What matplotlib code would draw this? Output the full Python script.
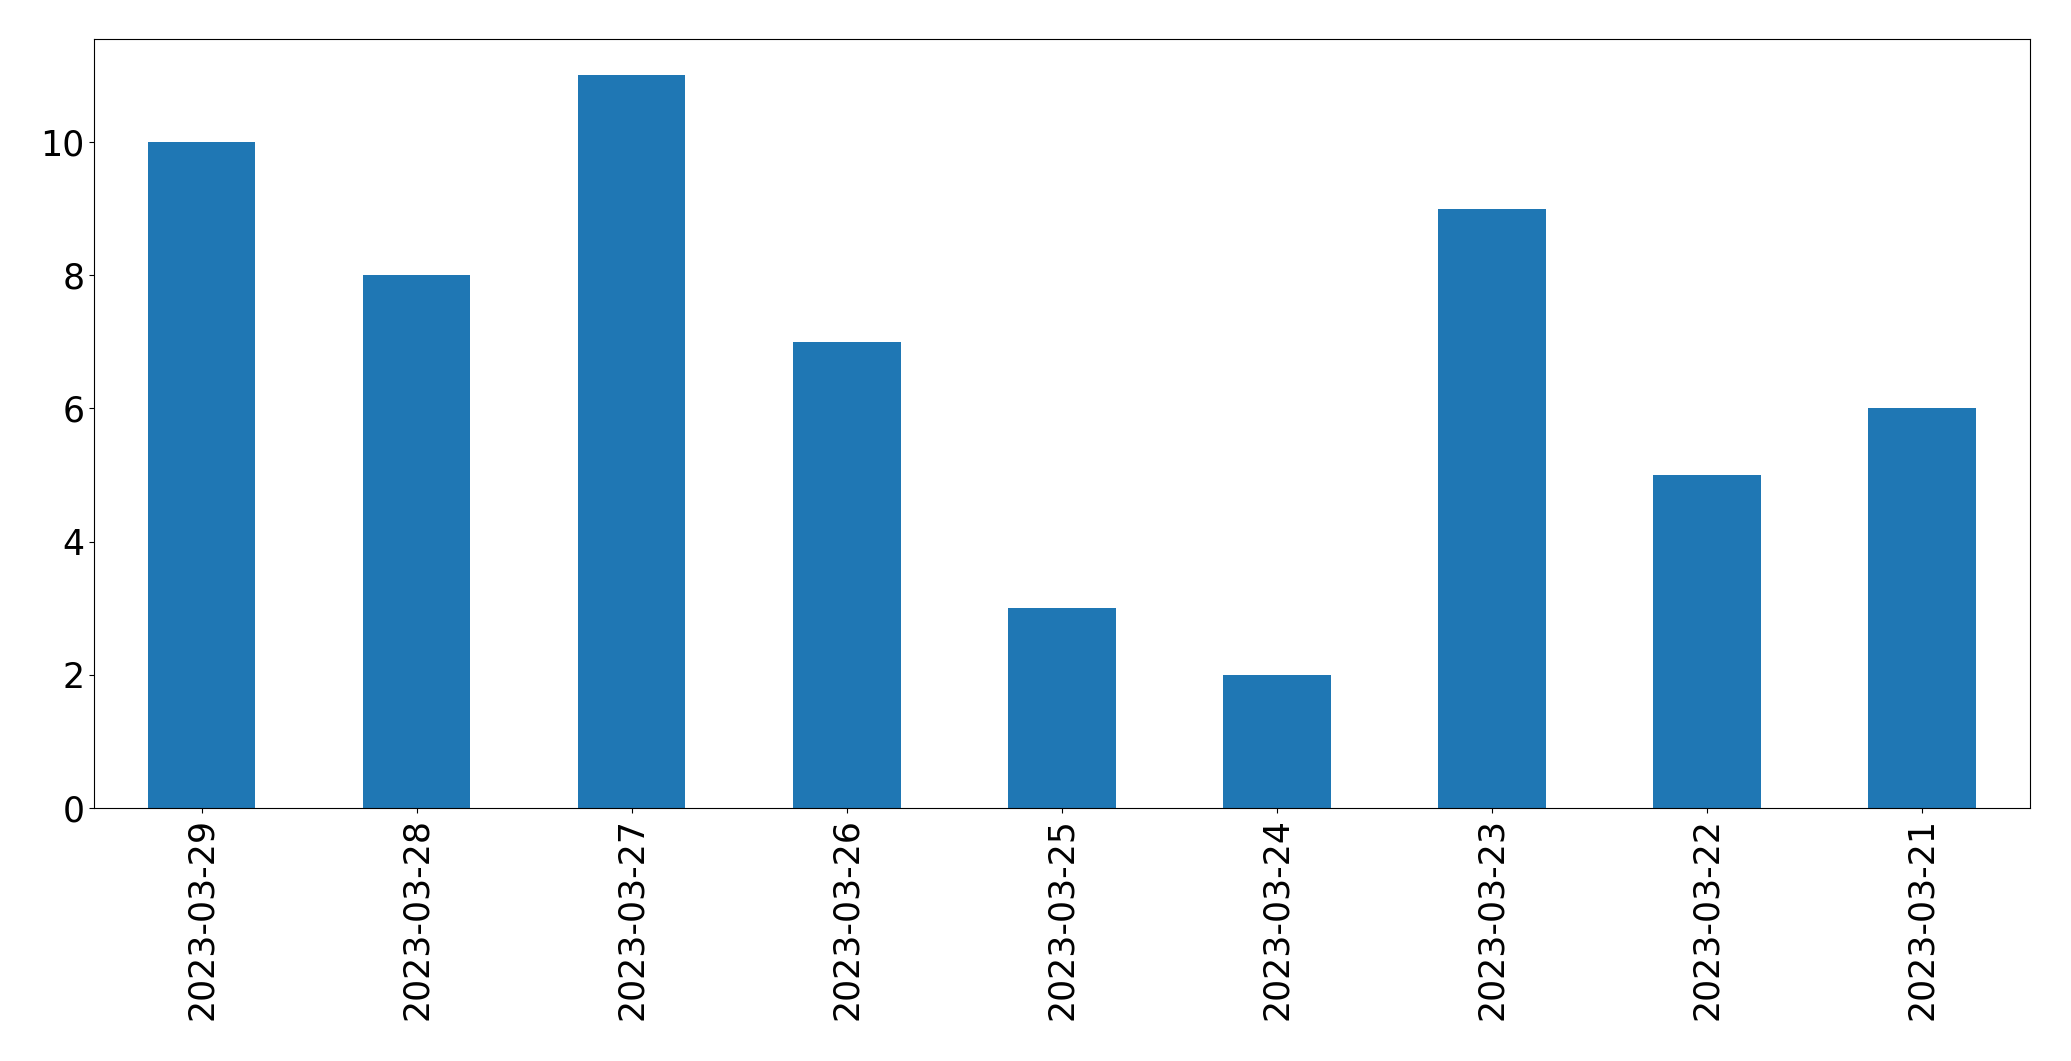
import matplotlib
matplotlib.use("Agg")
import matplotlib.pyplot as plt
import numpy as np

dates = ["2023-03-29", "2023-03-28", "2023-03-27", "2023-03-26", "2023-03-25",
         "2023-03-24", "2023-03-23", "2023-03-22", "2023-03-21"]
counts = [10, 8, 11, 7, 3, 2, 9, 5, 6]

fig = plt.figure(figsize=(20.71, 10.61), dpi=100)
ax = fig.add_axes([0.0454, 0.2385, 0.9346, 0.7250])
x = np.arange(len(dates))
ax.bar(x, counts, width=0.5, color="#1f77b4")
ax.set_xticks(x)
ax.set_xticklabels(dates, rotation=90)
ax.set_xlim(-0.5, len(dates) - 0.5)
ax.tick_params(labelsize=25)
fig.savefig("out.png", dpi=100)
